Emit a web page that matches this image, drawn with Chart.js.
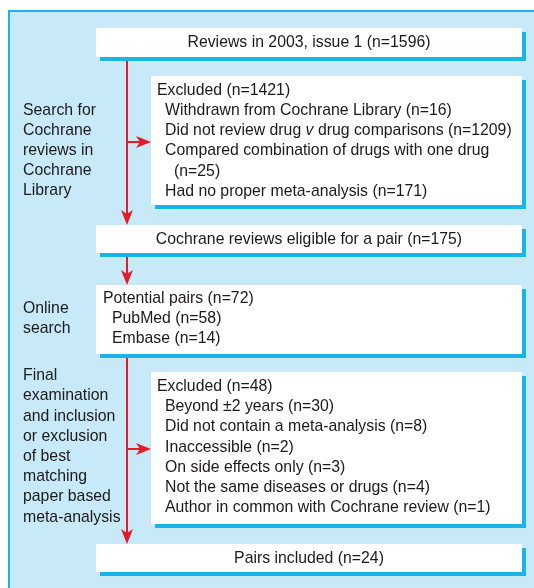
<!DOCTYPE html>
<html>
<head>
<meta charset="utf-8">
<script src="https://cdn.jsdelivr.net/npm/chart.js@4/dist/chart.umd.min.js"></script>
<style>
  html, body { margin: 0; padding: 0; background: #fff; }
  #wrap { width: 534px; height: 588px; }
</style>
</head>
<body>
<div id="wrap"><canvas id="flow" width="534" height="588"></canvas></div>
<script>
// Stage labels on the left
const stageSearch = ['Search for', 'Cochrane', 'reviews in', 'Cochrane', 'Library'];
const stageOnline = ['Online', 'search'];
const stageFinal = ['Final', 'examination', 'and inclusion', 'or exclusion', 'of best', 'matching', 'paper based', 'meta-analysis'];

// Counts
const reviewsTotal = 1596;
const excludedFirst = 1421;
const eligibleReviews = 175;
const potentialPairs = 72;
const sourceNames = ['PubMed', 'Embase'];
const sourceCounts = [58, 14];
const excludedSecond = 48;
const pairsIncluded = 24;

// Exclusion reasons
const reasonsFirst = ['Withdrawn from Cochrane Library', 'Did not review drug |v| drug comparisons', 'Compared combination of drugs with one drug', 'Had no proper meta-analysis'];
const reasonsFirstCounts = [16, 1209, 25, 171];
const reasonsSecond = ['Beyond \u00b12 years', 'Did not contain a meta-analysis', 'Inaccessible', 'On side effects only', 'Not the same diseases or drugs', 'Author in common with Cochrane review'];
const reasonsSecondCounts = [30, 8, 2, 3, 4, 1];

// Colores
const panelFill = '#c7e9f8';
const cyan = '#1cb3ea';
const red = '#e31b2a';
const ink = '#1c1a1b';
const FONT = '17px "Liberation Sans", Arial, sans-serif';
const FONT_IT = 'italic ' + FONT;
const NARROW = 0.93; // condensado horizontal

// Texto con tramos en cursiva marcados con |...|
function drawRich(ctx, str, x, y, align) {
    const parts = str.split('|');
    let total = 0;
    parts.forEach((p, i) => {
        ctx.font = i % 2 ? FONT_IT : FONT;
        total += ctx.measureText(p).width;
    });
    ctx.save();
    ctx.translate(align === 'center' ? x - total * NARROW / 2 : x, y);
    ctx.scale(NARROW, 1);
    ctx.textAlign = 'left';
    let cx = 0;
    parts.forEach((p, i) => {
        ctx.font = i % 2 ? FONT_IT : FONT;
        ctx.fillText(p, cx, 0);
        cx += ctx.measureText(p).width;
    });
    ctx.restore();
}

function box(ctx, xs, ys, x0, y0, x1, y1) {
    const l = xs.getPixelForValue(x0), r = xs.getPixelForValue(x1);
    const t = ys.getPixelForValue(y0), b = ys.getPixelForValue(y1);
    ctx.fillStyle = cyan;
    ctx.fillRect(l + 4, t + 4, r - l, b - t);
    ctx.fillStyle = '#ffffff';
    ctx.fillRect(l, t, r - l, b - t);
}

function arrowHead(ctx, x, y, dir) {
    // punta con muesca, dir: 'down' o 'right'
    ctx.save();
    ctx.translate(x, y);
    if (dir === 'right') ctx.rotate(-Math.PI / 2);
    ctx.beginPath();
    ctx.moveTo(0, 0);
    ctx.lineTo(-6, -15);
    ctx.lineTo(0, -11);
    ctx.lineTo(6, -15);
    ctx.closePath();
    ctx.fillStyle = red;
    ctx.fill();
    ctx.restore();
}

function lines(ctx, xs, ys, arr, x, y0, step) {
    arr.forEach((s, i) => drawRich(ctx, s, xs.getPixelForValue(x), ys.getPixelForValue(y0 + i * step), 'left'));
}

const flowPlugin = {
    id: 'flow',
    beforeDraw(chart) {
        const ctx = chart.ctx;
        const xs = chart.scales.x, ys = chart.scales.y;
        const X = v => xs.getPixelForValue(v), Y = v => ys.getPixelForValue(v);
        ctx.save();

        // panel
        ctx.fillStyle = panelFill;
        ctx.fillRect(X(9), Y(11), X(534) - X(9), Y(588) - Y(11));
        ctx.fillStyle = cyan;
        ctx.fillRect(X(8), Y(10), 2, Y(588) - Y(10));
        ctx.fillRect(X(8), Y(10), X(534) - X(8), 2);

        // flechas
        ctx.strokeStyle = red;
        ctx.lineWidth = 2;
        ctx.beginPath();
        ctx.moveTo(X(127), Y(57)); ctx.lineTo(X(127), Y(214));
        ctx.moveTo(X(127), Y(142)); ctx.lineTo(X(140), Y(142));
        ctx.moveTo(X(127), Y(253)); ctx.lineTo(X(127), Y(274));
        ctx.moveTo(X(127), Y(354)); ctx.lineTo(X(127), Y(533));
        ctx.moveTo(X(127), Y(449)); ctx.lineTo(X(140), Y(449));
        ctx.stroke();
        arrowHead(ctx, X(127), Y(225), 'down');
        arrowHead(ctx, X(151), Y(142), 'right');
        arrowHead(ctx, X(127), Y(285), 'down');
        arrowHead(ctx, X(127), Y(544), 'down');
        arrowHead(ctx, X(151), Y(449), 'right');

        // cajas
        box(ctx, xs, ys, 96, 28, 522, 57);
        box(ctx, xs, ys, 151, 76, 522, 205);
        box(ctx, xs, ys, 96, 225, 522, 253);
        box(ctx, xs, ys, 96, 285, 522, 354);
        box(ctx, xs, ys, 151, 372, 522, 524);
        box(ctx, xs, ys, 96, 544, 522, 572);

        ctx.fillStyle = ink;
        ctx.textBaseline = 'middle';

        // etapas
        lines(ctx, xs, ys, stageSearch, 23, 110, 20);
        lines(ctx, xs, ys, stageOnline, 23, 308, 20);
        lines(ctx, xs, ys, stageFinal, 23, 375.5, 20.2);

        // textos de cajas
        drawRich(ctx, `Reviews in 2003, issue 1 (n=${reviewsTotal})`, X(309), Y(42), 'center');
        drawRich(ctx, `Excluded (n=${excludedFirst})`, X(157), Y(90), 'left');
        drawRich(ctx, `${reasonsFirst[0]} (n=${reasonsFirstCounts[0]})`, X(165), Y(110), 'left');
        drawRich(ctx, `${reasonsFirst[1]} (n=${reasonsFirstCounts[1]})`, X(165), Y(130), 'left');
        drawRich(ctx, reasonsFirst[2], X(165), Y(150), 'left');
        drawRich(ctx, `(n=${reasonsFirstCounts[2]})`, X(174), Y(171), 'left');
        drawRich(ctx, `${reasonsFirst[3]} (n=${reasonsFirstCounts[3]})`, X(165), Y(191), 'left');

        drawRich(ctx, `Cochrane reviews eligible for a pair (n=${eligibleReviews})`, X(309), Y(239), 'center');

        drawRich(ctx, `Potential pairs (n=${potentialPairs})`, X(103), Y(298), 'left');
        sourceNames.forEach((s, i) => drawRich(ctx, `${s} (n=${sourceCounts[i]})`, X(112), Y(318 + i * 20), 'left'));

        drawRich(ctx, `Excluded (n=${excludedSecond})`, X(157), Y(386), 'left');
        reasonsSecond.forEach((s, i) => drawRich(ctx, `${s} (n=${reasonsSecondCounts[i]})`, X(165), Y(406.5 + i * 20.2), 'left'));

        drawRich(ctx, `Pairs included (n=${pairsIncluded})`, X(309), Y(558), 'center');

        ctx.restore();
    }
};

new Chart(document.getElementById('flow').getContext('2d'), {
    type: 'scatter',
    data: { datasets: [] },
    options: {
        responsive: false,
        animation: false,
        layout: { padding: 0 },
        plugins: { legend: { display: false }, tooltip: { enabled: false } },
        scales: {
            x: { type: 'linear', min: 0, max: 534, display: false },
            y: { type: 'linear', min: 0, max: 588, reverse: true, display: false }
        }
    },
    plugins: [flowPlugin]
});
</script>
</body>
</html>
